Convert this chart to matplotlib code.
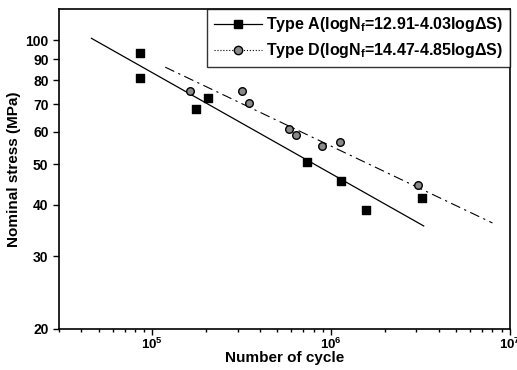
import numpy as np
import matplotlib
matplotlib.use("Agg")
from matplotlib import pyplot as plt
from matplotlib.lines import Line2D
from matplotlib.ticker import FixedLocator, NullLocator, FixedFormatter

plt.rcParams['font.family'] = ['Liberation Sans', 'DejaVu Sans']
plt.rcParams['font.weight'] = 'bold'
plt.rcParams['mathtext.fontset'] = 'custom'
plt.rcParams['mathtext.rm'] = 'Liberation Sans:bold'
plt.rcParams['mathtext.it'] = 'Liberation Sans:bold'
plt.rcParams['mathtext.bf'] = 'Liberation Sans:bold'

# Type A test data (squares)
a_cycles = [8.5e4, 8.5e4, 1.76e5, 2.05e5, 7.35e5, 1.14e6, 1.57e6, 3.22e6]
a_stress = [93, 81, 68, 72.5, 50.7, 45.6, 38.7, 41.4]
# Type D test data (circles)
d_cycles = [1.63e5, 3.18e5, 3.48e5, 5.82e5, 6.37e5, 8.9e5, 1.12e6, 3.06e6]
d_stress = [75.5, 75.5, 70.5, 61.0, 59.0, 55.4, 56.6, 44.6]

# fitted S-N lines (end points)
a_fit_cycles = [4.56e4, 3.3e6]
a_fit_stress = [101, 35.5]
d_fit_cycles = [1.18e5, 8.0e6]
d_fit_stress = [86, 36.1]

y_ticks = [20, 30, 40, 50, 60, 70, 80, 90, 100]

fig = plt.figure(figsize=(5.17, 3.70), dpi=100)
ax = fig.add_axes([0.114, 0.111, 0.872, 0.865])

ax.plot(a_fit_cycles, a_fit_stress, color='black', lw=0.9)
ax.plot(d_fit_cycles, d_fit_stress, color='black', lw=0.8,
        dashes=[9, 4, 2, 4])
ax.scatter(a_cycles, a_stress, marker='s', s=28, color='black', zorder=3)
ax.scatter(d_cycles, d_stress, marker='o', s=30, facecolor='#8a8a8a',
           edgecolor='black', linewidths=1.0, zorder=3)

ax.set_xscale('log')
ax.set_yscale('log')
ax.set_xlim(3e4, 1e7)
ax.set_ylim(20, 119)

ax.yaxis.set_major_locator(FixedLocator(y_ticks))
ax.yaxis.set_major_formatter(FixedFormatter([str(v) for v in y_ticks]))
ax.yaxis.set_minor_locator(NullLocator())
ax.tick_params(axis='both', which='major', direction='out', length=4,
               width=1, labelsize=10)
ax.tick_params(axis='x', which='major', labelsize=9.5, pad=2)
ax.tick_params(axis='x', which='minor', direction='out', length=2.5, width=1)

for s in ax.spines.values():
    s.set_linewidth(1.2)

ax.set_xlabel('Number of cycle', fontsize=11, fontweight='bold',
              labelpad=-1)
ax.set_ylabel('Nominal stress (MPa)', fontsize=11, fontweight='bold',
              labelpad=3)

handles = [
    Line2D([], [], color='black', lw=0.9, marker='s', markersize=6),
    Line2D([], [], color='black', lw=0.8, ls=':', marker='o', markersize=6,
           markerfacecolor='#8a8a8a', markeredgecolor='black'),
]
labels = [
    'Type A(logN$_{f}$=12.91-4.03log\u0394S)',
    'Type D(logN$_{f}$=14.47-4.85log\u0394S)',
]
leg = ax.legend(handles, labels, loc='upper right', fontsize=11.5,
                frameon=True, fancybox=False, edgecolor='black',
                borderaxespad=0, handlelength=3.0, handletextpad=0.3,
                borderpad=0.4, labelspacing=0.45)
leg.get_frame().set_linewidth(1.0)

fig.savefig('out.png', dpi=100)
